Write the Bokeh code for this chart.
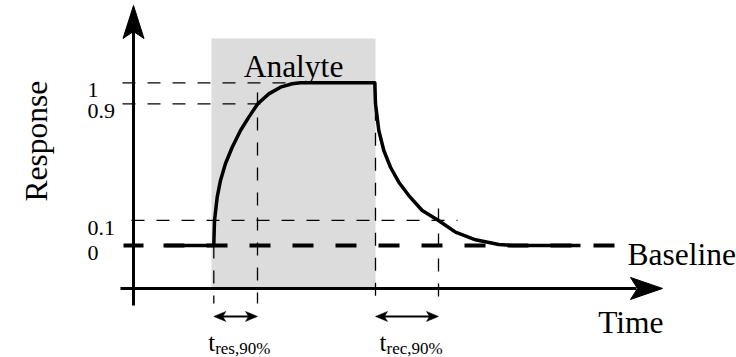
import numpy as np
from bokeh.plotting import figure
from bokeh.models import Range1d
from bokeh.core.properties import value
from bokeh.embed import file_html
from bokeh.resources import INLINE

# ---------------- data (time: arbitrary units, response: normalized) ----------------
curve_t = [3.2, 8.03, 8.1, 8.37, 8.7, 9.2, 9.87, 10.7, 11.53, 12.43, 13.53, 14.7, 15.87, 16.7,
           24.13, 24.2, 24.53, 25.03, 25.7, 26.53, 27.53, 28.87, 30.5, 32.2, 34.2, 36.53, 37.87, 44.7]
curve_r = [0.0, 0.0, 0.154, 0.297, 0.40, 0.504, 0.604, 0.707, 0.789, 0.871, 0.932, 0.973, 0.994, 1.0,
           1.0, 0.871, 0.707, 0.584, 0.481, 0.389, 0.307, 0.215, 0.154, 0.082, 0.035, 0.006, 0.0, 0.0]

analyte_on, analyte_off, analyte_top = 7.8, 24.2, 1.272
t_start, t_res90, t_rec90 = 8.03, 12.4, 30.5

level_pos = [1.0, 0.871, 0.154, 0.0]
level_labels = ["1", "0.9", "0.1", "0"]

hguide_r = [1.0, 0.871, 0.154]
hguide_t0 = [-1.1, -1.1, -0.2]
hguide_t1 = [16.7, 13.9, 32.4]

vguide_t = [t_start, t_res90, analyte_off, t_rec90]
vguide_top = [0.0, 0.94, 1.0, 0.227]
vguide_bottom = -0.357

baseline_t = [3.0, 48.1]
axis_r = -0.264          # position of time axis
axis_t_min, axis_t_max = -1.3, 52.9
axis_r_min, axis_r_max = -0.369, 1.475
interval_r = -0.436
intervals = [(t_start, t_res90, "res,90%"), (analyte_off, t_rec90, "rec,90%")]

# ---------------- figure ----------------
W, H = 736, 357
x0, x1 = -13.3, 60.3
y0, y1 = -0.6884, 1.5058
DT = (x1 - x0) / W   # data per px (x)
DR = (y1 - y0) / H   # data per px (y)

p = figure(width=W, height=H, x_range=Range1d(x0, x1), y_range=Range1d(y0, y1),
           output_backend="svg", toolbar_location=None, x_axis_type=None, y_axis_type=None,
           min_border=0, outline_line_color=None, background_fill_color="white",
           border_fill_color="white")

SERIF = value("Liberation Serif")
BIG = "31.5px"

# analyte shading
p.quad(left=analyte_on, right=analyte_off, bottom=axis_r, top=analyte_top,
       fill_color="#dcdcdd", line_color=None)

# thin dashed guides
p.segment(x0=hguide_t0, y0=hguide_r, x1=hguide_t1, y1=hguide_r,
          line_color="black", line_width=1.3, line_dash="13 12")
p.segment(x0=vguide_t, y0=vguide_top, x1=vguide_t, y1=[vguide_bottom] * len(vguide_t),
          line_color="black", line_width=1.3, line_dash="13 12")

# thick dashed baseline + tick at axis
p.line(baseline_t, [0, 0], line_color="black", line_width=4, line_dash="21 22")
p.segment(x0=[-10 * DT], y0=[0], x1=[10 * DT], y1=[0], line_color="black", line_width=4)

# response curve
p.line(curve_t, curve_r, line_color="black", line_width=3.5, line_join="round")


def head(tx, ty, dx, dy, L, N, hw):
    nx, ny = -dy, dx
    pts = [(0, 0), (-L * dx + hw * nx, -L * dy + hw * ny), (-N * dx, -N * dy),
           (-L * dx - hw * nx, -L * dy - hw * ny)]
    return [tx + a * DT for a, b in pts], [ty + b * DR for a, b in pts]


# axes
AL, AN, AH = 33, 26, 10.5
p.line([0, 0], [axis_r_min, axis_r_max - AN * DR], line_color="black", line_width=3)
hx, hy = head(0, axis_r_max, 0, 1, AL, AN, AH)
p.patch(hx, hy, fill_color="black", line_color="black", line_width=1)
p.line([axis_t_min, axis_t_max - AN * DT], [axis_r, axis_r], line_color="black", line_width=3)
hx, hy = head(axis_t_max, axis_r, 1, 0, 32, 25, 11)
p.patch(hx, hy, fill_color="black", line_color="black", line_width=1)

# interval arrows and labels
for a, b, sub in intervals:
    p.line([a + 8 * DT, b - 8 * DT], [interval_r, interval_r], line_color="black", line_width=2)
    for tx, d in ((a, -1), (b, 1)):
        hx, hy = head(tx, interval_r, d, 0, 12, 9, 5)
        p.patch(hx, hy, fill_color="black", line_color="black", line_width=0.5)
    c = (a + b) / 2
    p.text(x=[c], y=[interval_r], text=["t"], x_offset=-20.5, y_offset=26.5,
           text_align="right", text_baseline="alphabetic", text_font=SERIF,
           text_font_size="25px", text_color="black")
    p.text(x=[c], y=[interval_r], text=[sub], x_offset=-20.5, y_offset=32.5,
           text_align="left", text_baseline="alphabetic", text_font=SERIF,
           text_font_size="17px", text_color="black")

# level labels
p.text(x=[0] * len(level_pos), y=level_pos, text=level_labels, x_offset=-46, y_offset=7.5,
       text_align="left", text_baseline="alphabetic", text_font=SERIF,
       text_font_size="22px", text_color="black")

# other labels
p.text(x=[(analyte_on + analyte_off) / 2], y=[analyte_top], text=["Analyte"], y_offset=28,
       text_align="center", text_baseline="alphabetic", text_font=SERIF,
       text_font_size=BIG, text_color="black")
p.text(x=[baseline_t[1]], y=[0], text=["Baseline"], x_offset=13, y_offset=9,
       text_align="left", text_baseline="alphabetic", text_font=SERIF,
       text_font_size=BIG, text_color="black")
p.text(x=[axis_t_max], y=[axis_r], text=["Time"], x_offset=1, y_offset=34,
       text_align="right", text_baseline="alphabetic", text_font=SERIF,
       text_font_size=BIG, text_color="black")
p.text(x=[0], y=[0.5], text=["Response"], x_offset=-97, y_offset=-23, angle=np.pi / 2,
       text_align="center", text_baseline="alphabetic", text_font=SERIF,
       text_font_size=BIG, text_color="black")

open("out.html", "w").write(file_html(p, INLINE))
